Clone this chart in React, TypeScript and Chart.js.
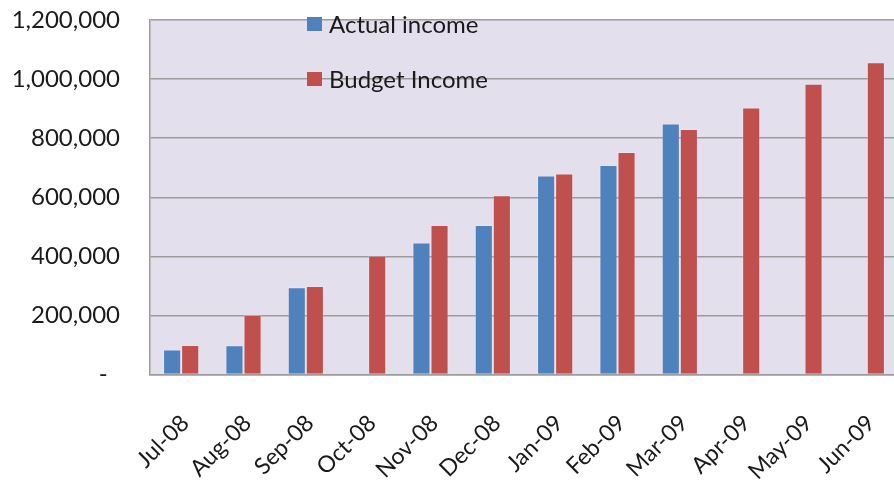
import React, { useEffect, useRef } from 'react';
import { Chart, registerables } from 'chart.js';

Chart.register(...registerables);

const months = ['Jul-08', 'Aug-08', 'Sep-08', 'Oct-08', 'Nov-08', 'Dec-08', 'Jan-09', 'Feb-09', 'Mar-09', 'Apr-09', 'May-09', 'Jun-09'];
const actualIncome: (number | null)[] = [85000, 99000, 295000, null, 447000, 506000, 674000, 709000, 850000, null, null, null];
const budgetIncome: number[] = [100000, 201000, 300000, 402000, 506000, 607000, 680000, 753000, 831000, 904000, 984000, 1057000];
const yTickValues = [0, 200000, 400000, 600000, 800000, 1000000, 1200000];
const yTickLabels = ['-  ', '200,000', '400,000', '600,000', '800,000', '1,000,000', '1,200,000'];

const BLUE = '#4F81BD';
const RED = '#C0504D';
const GRID = '#9c9c9c';
const FONT = 'Lato';

const plotBackground = {
  id: 'plotBackground',
  beforeDraw(chart: any) {
    const { ctx, chartArea } = chart;
    ctx.save();
    ctx.fillStyle = '#E4DFEC';
    ctx.fillRect(chartArea.left, chartArea.top, chartArea.right - chartArea.left, chartArea.bottom - chartArea.top);
    ctx.restore();
  },
};

const insideLegend = {
  id: 'insideLegend',
  afterDraw(chart: any) {
    const { ctx } = chart;
    const rows = [24, 79];
    ctx.save();
    ctx.font = `24px ${FONT}`;
    ctx.textBaseline = 'middle';
    ctx.textAlign = 'left';
    chart.data.datasets.forEach((ds: any, i: number) => {
      const cy = rows[i];
      ctx.fillStyle = ds.backgroundColor;
      ctx.fillRect(307, cy - 7, 15, 14);
      ctx.fillStyle = '#1a1a1a';
      ctx.fillText(ds.label, 329, cy + 1);
    });
    ctx.restore();
  },
};

export default function App() {
  const canvasRef = useRef<HTMLCanvasElement | null>(null);

  useEffect(() => {
    const canvas = canvasRef.current;
    if (!canvas) return;
    const chart = new Chart(canvas, {
      type: 'bar',
      data: {
        labels: months,
        datasets: [
          {
            label: 'Actual income',
            data: actualIncome,
            backgroundColor: BLUE,
            borderColor: 'rgba(255,255,255,0.2)',
            borderWidth: 1,
            categoryPercentage: 0.58,
            barPercentage: 1,
          },
          {
            label: 'Budget Income',
            data: budgetIncome,
            backgroundColor: RED,
            borderColor: 'rgba(255,255,255,0.2)',
            borderWidth: 1,
            categoryPercentage: 0.58,
            barPercentage: 1,
          },
        ],
      },
      options: {
        responsive: false,
        animation: false,
        devicePixelRatio: 1,
        layout: { padding: { top: 20, right: 0, left: 0, bottom: 0 } },
        plugins: {
          legend: { display: false },
          tooltip: { enabled: false },
        },
        scales: {
          x: {
            grid: { display: false, drawTicks: false },
            border: { display: true, color: GRID, width: 1.5 },
            ticks: {
              font: { family: FONT, size: 23 },
              color: '#1a1a1a',
              maxRotation: 45,
              minRotation: 45,
              padding: 35,
              labelOffset: 4,
              autoSkip: false,
            },
            afterFit: (s: any) => {
              s.height = 109.5;
              s.paddingLeft = 0;
              s.paddingRight = 0;
            },
          },
          y: {
            min: 0,
            max: 1200000,
            afterBuildTicks: (s: any) => {
              s.ticks = yTickValues.map((v) => ({ value: v }));
            },
            ticks: {
              font: { family: FONT, size: 24 },
              color: '#1a1a1a',
              padding: 30,
              callback: (v: any) => {
                const idx = yTickValues.indexOf(Number(v));
                return idx >= 0 ? yTickLabels[idx] : '';
              },
            },
            grid: { color: GRID, lineWidth: 1.5, drawTicks: false },
            border: { display: true, color: GRID, width: 1.5 },
            afterFit: (s: any) => {
              s.width = 150;
              s.paddingTop = 0;
              s.paddingBottom = 0;
            },
          },
        },
      },
      plugins: [plotBackground, insideLegend],
    });
    return () => chart.destroy();
  }, []);

  return (
    <div style={{ position: 'absolute', left: 0, top: 0, width: 894, height: 484, overflow: 'hidden', background: '#fff' }}>
      <canvas ref={canvasRef} width={898} height={484} style={{ width: 898, height: 484, display: 'block' }} />
    </div>
  );
}
